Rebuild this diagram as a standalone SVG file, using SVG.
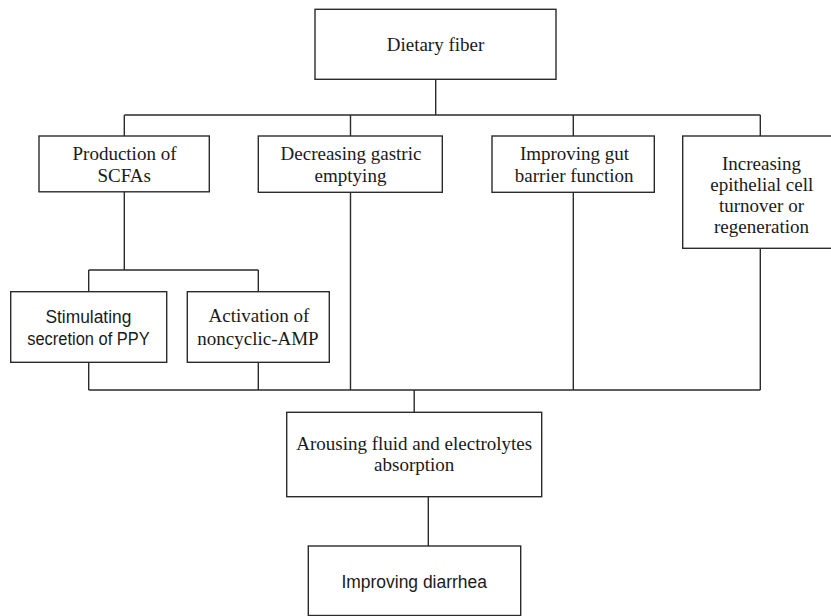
<svg xmlns="http://www.w3.org/2000/svg" width="831" height="616" viewBox="0 0 831 616">
<style>
.box{fill:#fff;stroke:#2b2b2b;stroke-width:1.4}
.ln{fill:none;stroke:#2b2b2b;stroke-width:1.4}
.s{font-family:"Liberation Serif","Times New Roman",serif;font-size:19px;fill:#1a1a1a;text-anchor:middle}
.a{font-family:"Liberation Sans",Arial,sans-serif;font-size:17.5px;fill:#1a1a1a;text-anchor:middle}
</style>
<rect width="831" height="616" fill="#fff"/>
<g id="connectors">
<path class="ln" d="M435.7 79.3V115M124.3 115H760.3M124.3 115V136M350.5 115V136M573.3 115V136M760.3 115V136"/>
<path class="ln" d="M124.3 191.8V270M88.7 270H258.3M88.7 270V291.7M258.3 270V291.7"/>
<path class="ln" d="M88.7 362.3V390M258.3 362.3V390M350.5 192.3V390M573.3 192.3V390M760.3 248.3V390M88.7 390H760.3"/>
<path class="ln" d="M414.2 390V412.3M428.3 496.7V546"/>
</g>
<g id="n-dietary">
<rect class="box" x="315" y="9.3" width="241" height="70"/>
<text class="s" x="435.5" y="51">Dietary fiber</text>
</g>
<g id="n-scfa">
<rect class="box" x="39" y="136" width="170.3" height="55.8"/>
<text class="s" x="124.5" y="160">Production of</text>
<text class="s" x="124.2" y="182">SCFAs</text>
</g>
<g id="n-gastric">
<rect class="box" x="258.3" y="136" width="184" height="56.3"/>
<text class="s" x="351" y="160">Decreasing gastric</text>
<text class="s" x="350.5" y="182">emptying</text>
</g>
<g id="n-barrier">
<rect class="box" x="492" y="136" width="162.3" height="56.3"/>
<text class="s" x="574.5" y="160">Improving gut</text>
<text class="s" x="574.2" y="182">barrier function</text>
</g>
<g id="n-epithelial">
<rect class="box" x="682.7" y="136" width="160" height="112.3"/>
<text class="s" x="761.5" y="169.5">Increasing</text>
<text class="s" x="761.8" y="190.8">epithelial cell</text>
<text class="s" x="761.5" y="212">turnover or</text>
<text class="s" x="761.5" y="233.2">regeneration</text>
</g>
<g id="n-ppy">
<rect class="box" x="10.7" y="291.7" width="156" height="70.6"/>
<text class="a" x="88.4" y="322.5" textLength="86" lengthAdjust="spacingAndGlyphs">Stimulating</text>
<text class="a" x="88.5" y="344.5" textLength="122.5" lengthAdjust="spacingAndGlyphs">secretion of PPY</text>
</g>
<g id="n-amp">
<rect class="box" x="187.3" y="291.7" width="142" height="70.6"/>
<text class="s" x="259" y="322">Activation of</text>
<text class="s" x="258" y="345">noncyclic-AMP</text>
</g>
<g id="n-absorption">
<rect class="box" x="286.7" y="412.3" width="255" height="84.4"/>
<text class="s" x="414.2" y="450">Arousing fluid and electrolytes</text>
<text class="s" x="414.2" y="471">absorption</text>
</g>
<g id="n-diarrhea">
<rect class="box" x="308.3" y="546" width="212.4" height="69.5"/>
<text class="a" x="414.2" y="587.5" textLength="145.5" lengthAdjust="spacingAndGlyphs">Improving diarrhea</text>
</g>
</svg>
